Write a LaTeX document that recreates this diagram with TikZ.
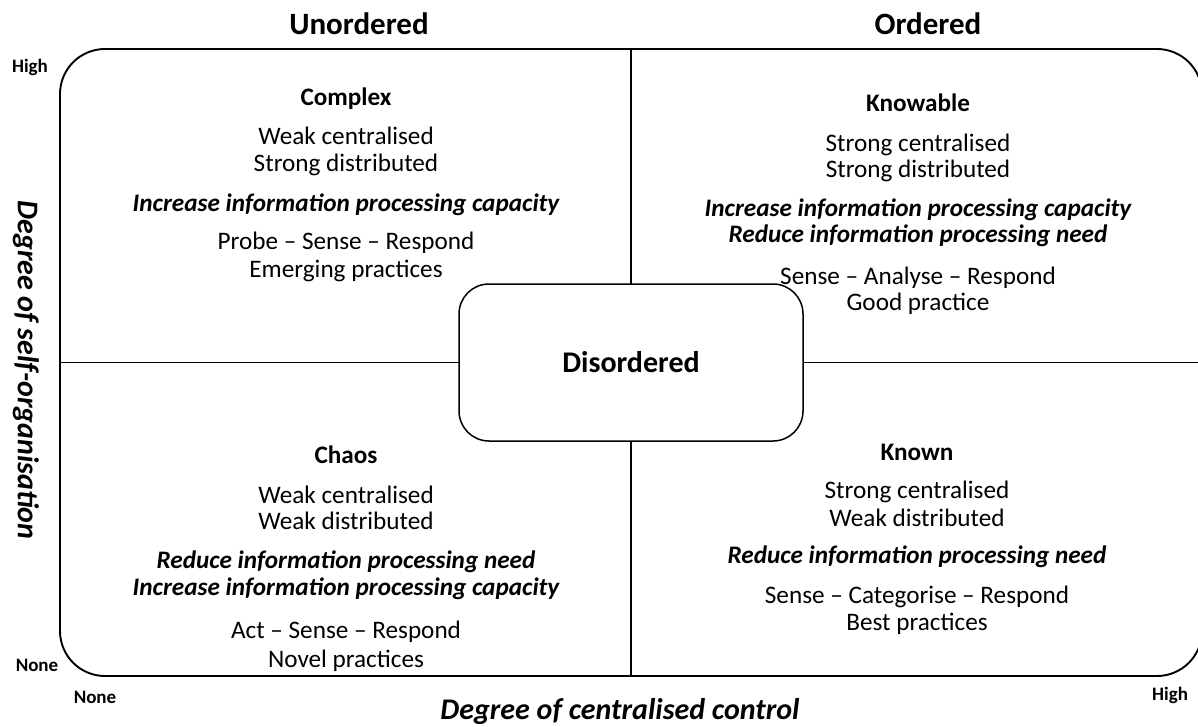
\documentclass[tikz,border=0pt]{standalone}
\usepackage{fontspec}
\setmainfont{Carlito}
\begin{document}
\begin{tikzpicture}[x=1pt,y=-1pt,
  frame/.style={draw, line width=1.9pt, rounded corners=45pt, minimum width=1142pt, minimum height=627pt, inner sep=0pt},
  divider/.style={line width=1.4pt},
  centrebox/.style={draw, fill=white, line width=1.5pt, rounded corners=30pt, minimum width=344pt, minimum height=157pt, font=\fontsize{30}{34}\selectfont\bfseries},
  txt/.style={anchor=base, inner sep=0pt, font=\fontsize{25.2}{27}\selectfont},
  title/.style={anchor=base, inner sep=0pt, font=\fontsize{25.2}{27}\selectfont\bfseries},
  advice/.style={anchor=base, inner sep=0pt, font=\fontsize{25.2}{27}\selectfont\bfseries\itshape},
  head/.style={anchor=base, inner sep=0pt, font=\fontsize{31}{34}\selectfont\bfseries},
  level/.style={anchor=base, inner sep=0pt, font=\fontsize{19}{22}\selectfont\bfseries},
  axis/.style={inner sep=0pt, font=\fontsize{30}{34}\selectfont\bfseries\itshape},
]
\useasboundingbox (0,0) rectangle (1198,727);

% outer frame, cut off at the right-hand edge, with the quadrant dividers
\begin{scope}
  \clip (0,0) rectangle (1198,727);
  \node[frame] (frame) at (631,362.5) {};
  \draw[divider] (frame.west) -- (frame.east);
  \draw[divider] (frame.north) -- (frame.south);
\end{scope}

% centre domain
\node[centrebox] (disordered) at (631,362.5) {Disordered};

% column headings
\node[head] (unordered) at (359,35) {Unordered};
\node[head] (ordered) at (928,35) {Ordered};

% axis levels
\node[level] (yhigh) at (30,73) {High};
\node[level] (ynone) at (37,671) {None};
\node[level] (xnone) at (95,703) {None};
\node[level] (xhigh) at (1170,700) {High};

% axis titles
\node[axis, anchor=base] (xaxis) at (620,719) {Degree of centralised control};
\node[axis, rotate=-90] (yaxis) at (26,370) {Degree of self-organisation};

% Complex
\node[title]  (cx1) at (346,106) {Complex};
\node[txt]    (cx2) at (346,145) {Weak centralised};
\node[txt]    (cx3) at (346,172) {Strong distributed};
\node[advice] (cx4) at (346,212) {Increase information processing capacity};
\node[txt]    (cx5) at (346,250) {Probe – Sense – Respond};
\node[txt]    (cx6) at (346,277) {Emerging practices};

% Knowable
\node[title]  (kb1) at (918,112) {Knowable};
\node[txt]    (kb2) at (918,152) {Strong centralised};
\node[txt]    (kb3) at (918,178) {Strong distributed};
\node[advice] (kb4) at (918,217) {Increase information processing capacity};
\node[advice] (kb5) at (918,243) {Reduce information processing need};
\node[txt]    (kb6) at (918,284) {Sense – Analyse – Respond};
\node[txt]    (kb7) at (918,310) {Good practice};

% Chaos
\node[title]  (ch1) at (346,463) {Chaos};
\node[txt]    (ch2) at (346,503) {Weak centralised};
\node[txt]    (ch3) at (346,529) {Weak distributed};
\node[advice] (ch4) at (346,568) {Reduce information processing need};
\node[advice] (ch5) at (346,595) {Increase information processing capacity};
\node[txt]    (ch6) at (346,638) {Act – Sense – Respond};
\node[txt]    (ch7) at (346,667) {Novel practices};

% Known
\node[title]  (kn1) at (917,460) {Known};
\node[txt]    (kn2) at (917,498) {Strong centralised};
\node[txt]    (kn3) at (917,526) {Weak distributed};
\node[advice] (kn4) at (917,563) {Reduce information processing need};
\node[txt]    (kn5) at (917,603) {Sense – Categorise – Respond};
\node[txt]    (kn6) at (917,630) {Best practices};
\end{tikzpicture}
\end{document}
